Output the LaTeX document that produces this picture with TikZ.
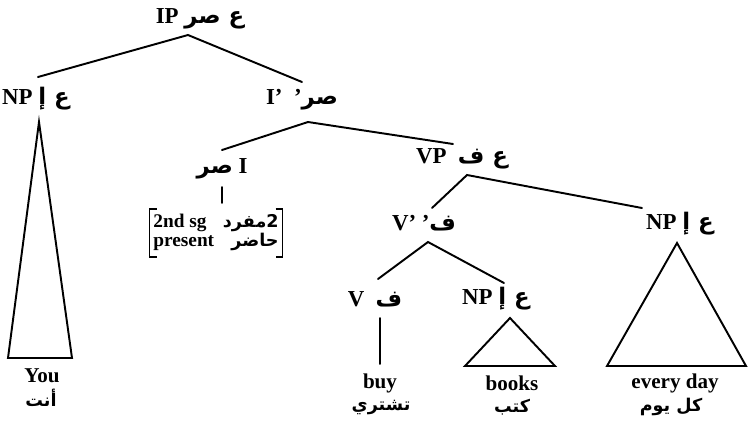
\documentclass[tikz,border=0pt]{standalone}
\usepackage{fontspec}
\setmainfont{Liberation Serif}
\newfontfamily\arabicfont[Script=Arabic]{DejaVu Sans}
\TeXXeTstate=1
\newcommand{\artxt}[1]{{\arabicfont\beginR #1\endR}}
\begin{document}
\begin{tikzpicture}[x=0.02cm,y=-0.02cm,
  lbl/.style={font=\bfseries\fontsize{13}{15}\selectfont, inner sep=0pt},
  word/.style={font=\bfseries\fontsize{12}{14}\selectfont, inner sep=0pt},
  arword/.style={font=\bfseries\fontsize{10}{12}\selectfont, inner sep=0pt},
  branch/.style={line width=1.1pt, line cap=round},
  tri/.style={line width=1.1pt, line join=miter}]
\useasboundingbox (0,0) rectangle (750,423);

% labels
\node[lbl] (IP)  at (200,19)  {IP\ \artxt{ع صر}};
\node[lbl] (NPa) at (36,99)   {NP \artxt{ع إ}};
\node[lbl] (Ib)  at (302,100) {I’\ \ ’\artxt{صر}};
\node[lbl] (I)   at (222,169) {\artxt{صر} I};
\node[lbl] (VP)  at (462,159) {VP\ \ \artxt{ع ف}};
\node[lbl] (Vb)  at (424,223) {V’\ ’\artxt{ف}};
\node[lbl] (NPc) at (680,224) {NP \artxt{ع إ}};
\node[lbl] (V)   at (375,299) {V\ \ \artxt{ف}};
\node[lbl] (NPb) at (496,299) {NP \artxt{ع إ}};

% feature bracket
\node[font=\bfseries\fontsize{11}{12}\selectfont, inner sep=2pt, align=left] (feat) at (216,233)
  {\begin{tabular}{@{}l@{\hspace{5pt}}r@{}}2nd sg & {\fontsize{10}{12}\selectfont\artxt{2مفرد}}\\[-1pt] present & {\fontsize{10}{12}\selectfont\artxt{حاضر}}\end{tabular}};
\draw[line width=1pt] ([xshift=4pt]feat.north west) -- (feat.north west) -- (feat.south west) -- ([xshift=4pt]feat.south west);
\draw[line width=1pt] ([xshift=-4pt]feat.north east) -- (feat.north east) -- (feat.south east) -- ([xshift=-4pt]feat.south east);

% words
\node[word]   (you)   at (42,376)  {You};
\node[arword] (youA)  at (41,398)  {\artxt{أنت}};
\node[word]   (buy)   at (380,383) {buy};
\node[arword] (buyA)  at (381,407) {\artxt{تشتري}};
\node[word]   (books) at (512,383) {books};
\node[arword] (booksA) at (512,407) {\artxt{كتب}};
\node[word]   (ed)    at (675,383) {every day};
\node[arword] (edA)   at (671,407) {\artxt{كل يوم}};

% branch points
\coordinate (IPx)  at (188,35);
\coordinate (NPat) at (38,77);
\coordinate (Ibt)  at (302,82);
\coordinate (Ibx)  at (308,122);
\coordinate (It)   at (222,150);
\coordinate (VPt)  at (453,144);
\coordinate (Ix1)  at (222,187);
\coordinate (Ix2)  at (222,203);
\coordinate (VPx)  at (467,175);
\coordinate (Vbt)  at (432,208);
\coordinate (NPct) at (642,208);
\coordinate (Vbx)  at (428,242);
\coordinate (Vt)   at (378,279);
\coordinate (NPbt) at (504,283);
\coordinate (Vx1)  at (380,318);
\coordinate (Vx2)  at (380,364);

\draw[branch] (NPat) -- (IPx) -- (Ibt);
\draw[branch] (It) -- (Ibx) -- (VPt);
\draw[branch] (Ix1) -- (Ix2);
\draw[branch] (Vbt) -- (VPx) -- (NPct);
\draw[branch] (Vt) -- (Vbx) -- (NPbt);
\draw[branch] (Vx1) -- (Vx2);

% triangles
\coordinate (T1a) at (39,122);  \coordinate (T1l) at (8,358);   \coordinate (T1r) at (72,358);
\coordinate (T2a) at (510,318); \coordinate (T2l) at (465,366); \coordinate (T2r) at (555,366);
\coordinate (T3a) at (677,243); \coordinate (T3l) at (607,366); \coordinate (T3r) at (746,366);
\draw[tri] (T1a) -- (T1l) -- (T1r) -- cycle;
\draw[tri] (T2a) -- (T2l) -- (T2r) -- cycle;
\draw[tri] (T3a) -- (T3l) -- (T3r) -- cycle;
\end{tikzpicture}
\end{document}
